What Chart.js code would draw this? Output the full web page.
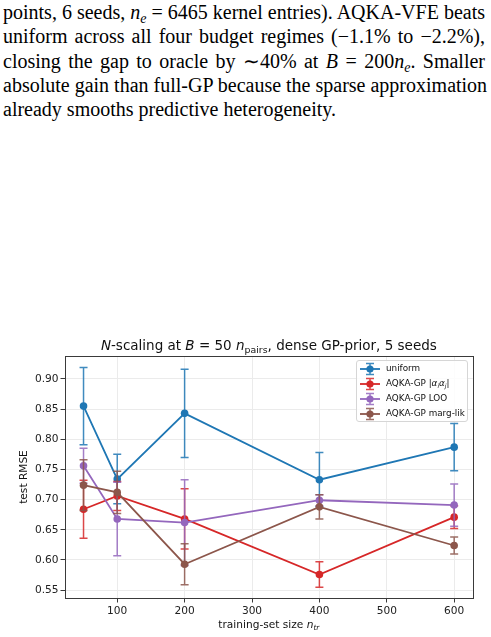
<!DOCTYPE html>
<html>
<head>
<meta charset="utf-8">
<script src="https://cdn.jsdelivr.net/npm/chart.js@4.4.0/dist/chart.umd.min.js"></script>
<style>
  html, body { margin: 0; padding: 0; background: #fff; }
  body { width: 491px; height: 637px; position: relative; overflow: hidden; }
  #texto { position: absolute; left: 3px; top: 0; width: 482px;
    font-family: "Liberation Serif", "Times New Roman", serif; font-size: 20px; color: #000; }
  #texto div { height: 24.3px; line-height: 24.3px; white-space: nowrap;
    text-align: justify; text-align-last: justify; }
  #texto div.ultima { text-align: left; text-align-last: left; }
  #texto sub { font-size: 70%; line-height: 0; vertical-align: -0.25em; }
  #caja { position: absolute; left: 0; top: 325px; width: 491px; height: 312px; }
</style>
</head>
<body>
<div id="texto">
  <div>points, 6 seeds, <i>n<sub>e</sub></i> = 6465 kernel entries). AQKA-VFE beats</div>
  <div>uniform across all four budget regimes (−1.1% to −2.2%),</div>
  <div>closing the gap to oracle by ∼40% at <i>B</i> = 200<i>n<sub>e</sub></i>. Smaller</div>
  <div>absolute gain than full-GP because the sparse approximation</div>
  <div class="ultima">already smooths predictive heterogeneity.</div>
</div>
<div id="caja"><canvas id="grafico" width="491" height="312"></canvas></div>
<script>
// ========== DATOS ==========
const tamanos = [50, 100, 200, 400, 600];
const xTicks = [100, 200, 300, 400, 500, 600];
const yTicks = [0.55, 0.60, 0.65, 0.70, 0.75, 0.80, 0.85, 0.90];

const uniformMedia = [0.855, 0.734, 0.843, 0.733, 0.787];
const uniformErr = [0.064, 0.041, 0.073, 0.045, 0.039];
const absMedia = [0.684, 0.706, 0.668, 0.576, 0.671];
const absErr = [0.048, 0.024, 0.050, 0.021, 0.019];
const looMedia = [0.756, 0.668, 0.662, 0.699, 0.691];
const looErr = [0.029, 0.061, 0.071, 0.009, 0.035];
const margMedia = [0.724, 0.712, 0.593, 0.688, 0.624];
const margErr = [0.042, 0.035, 0.034, 0.020, 0.014];

const series = [
  { nombre: "uniform", media: uniformMedia, err: uniformErr, color: "#1f77b4" },
  { nombre: "AQKA-GP |αiαj|", media: absMedia, err: absErr, color: "#d62728" },
  { nombre: "AQKA-GP LOO", media: looMedia, err: looErr, color: "#9467bd" },
  { nombre: "AQKA-GP marg-lik", media: margMedia, err: margErr, color: "#8c564b" }
];

const DEJAVU = '"DejaVu Sans", sans-serif';

// dibuja una fila de trozos de texto con fuentes distintas, centrada en x
function textoMixto(ctx, trozos, x, y) {
  let ancho = 0;
  trozos.forEach(t => { ctx.font = t.font; ancho += ctx.measureText(t.t).width; });
  let cx = x - ancho / 2;
  ctx.textAlign = "left";
  ctx.textBaseline = "alphabetic";
  trozos.forEach(t => {
    ctx.font = t.font;
    ctx.fillText(t.t, cx, y + (t.dy || 0));
    cx += ctx.measureText(t.t).width;
  });
}

function barraError(ctx, x, yArr, yAb, color) {
  ctx.strokeStyle = color;
  ctx.lineWidth = 1.5;
  ctx.beginPath();
  ctx.moveTo(x, yArr); ctx.lineTo(x, yAb);
  ctx.moveTo(x - 4, yArr); ctx.lineTo(x + 4, yArr);
  ctx.moveTo(x - 4, yAb); ctx.lineTo(x + 4, yAb);
  ctx.stroke();
}

// ========== PLUGIN BARRAS DE ERROR ==========
const barrasError = {
  id: "barrasError",
  beforeDatasetDraw(chart, args) {
    const s = series[args.index];
    const ctx = chart.ctx;
    const { x: ex, y: ey } = chart.scales;
    ctx.save();
    ctx.globalAlpha = 0.85;
    tamanos.forEach((t, i) => {
      barraError(ctx, ex.getPixelForValue(t),
        ey.getPixelForValue(s.media[i] + s.err[i]),
        ey.getPixelForValue(s.media[i] - s.err[i]), s.color);
    });
    ctx.restore();
  }
};

// ========== PLUGIN TEXTOS, MARCO Y LEYENDA ==========
const decoracion = {
  id: "decoracion",
  afterDraw(chart) {
    const ctx = chart.ctx;
    const a = chart.chartArea;
    ctx.save();

    // marco
    ctx.strokeStyle = "#3a3a3a";
    ctx.lineWidth = 1;
    ctx.strokeRect(Math.round(a.left) + 0.5, Math.round(a.top) + 0.5,
      Math.round(a.right - a.left), Math.round(a.bottom - a.top));

    // titulo
    ctx.fillStyle = "#111";
    const tn = "13.5px " + DEJAVU, ti = "italic 13.5px " + DEJAVU, ts = "9.4px " + DEJAVU;
    textoMixto(ctx, [
      { t: "N", font: ti }, { t: "-scaling at ", font: tn }, { t: "B", font: ti },
      { t: " = 50 ", font: tn }, { t: "n", font: ti }, { t: "pairs", font: ts, dy: 2.8 },
      { t: ", dense GP-prior, 5 seeds", font: tn }
    ], (a.left + a.right) / 2, 25);

    // titulo eje x
    textoMixto(ctx, [
      { t: "training-set size ", font: "10.6px " + DEJAVU },
      { t: "n", font: "italic 10.6px " + DEJAVU },
      { t: "tr", font: "italic 7.4px " + DEJAVU, dy: 2 }
    ], (a.left + a.right) / 2, 303);

    // titulo eje y
    ctx.save();
    ctx.translate(27, (a.top + a.bottom) / 2);
    ctx.rotate(-Math.PI / 2);
    ctx.font = "10.6px " + DEJAVU;
    ctx.textAlign = "center";
    ctx.textBaseline = "alphabetic";
    ctx.fillText("test RMSE", 0, 0);
    ctx.restore();

    // leyenda
    const lx = 356.5, ly = 35.5, lw = 111, lh = 61;
    ctx.fillStyle = "rgba(255,255,255,0.85)";
    ctx.strokeStyle = "#d6d6d6";
    ctx.lineWidth = 1;
    ctx.beginPath();
    ctx.roundRect(lx, ly, lw, lh, 2.5);
    ctx.fill();
    ctx.stroke();
    series.forEach((s, i) => {
      const yy = ly + 8.5 + i * 15;
      ctx.globalAlpha = 0.85;
      barraError(ctx, 370, yy - 5.5, yy + 5.5, s.color);
      ctx.globalAlpha = 1;
      ctx.strokeStyle = s.color;
      ctx.lineWidth = 1.8;
      ctx.beginPath(); ctx.moveTo(360, yy); ctx.lineTo(380, yy); ctx.stroke();
      ctx.fillStyle = s.color;
      ctx.beginPath(); ctx.arc(370, yy, 3.6, 0, Math.PI * 2); ctx.fill();
      ctx.fillStyle = "#111";
      ctx.textBaseline = "middle";
      if (i === 1) {
        const f = "8.8px " + DEJAVU, fi = "italic 8.8px " + DEJAVU, fs = "italic 6px " + DEJAVU;
        let cx = 386;
        [{ t: "AQKA-GP |", font: f }, { t: "α", font: fi }, { t: "i", font: fs, dy: 2.5 },
         { t: "α", font: fi }, { t: "j", font: fs, dy: 2.5 }, { t: "|", font: f }].forEach(p => {
          ctx.font = p.font;
          ctx.textAlign = "left";
          ctx.fillText(p.t, cx, yy + (p.dy || 0));
          cx += ctx.measureText(p.t).width;
        });
      } else {
        ctx.font = "8.8px " + DEJAVU;
        ctx.textAlign = "left";
        ctx.fillText(s.nombre, 386, yy);
      }
    });
    ctx.restore();
  }
};

// ========== GRAFICO ==========
const canvas = document.getElementById("grafico");
new Chart(canvas, {
  type: "line",
  data: {
    datasets: series.map((s, i) => ({
      label: s.nombre,
      data: tamanos.map((t, k) => ({ x: t, y: s.media[k] })),
      borderColor: s.color,
      backgroundColor: s.color,
      borderWidth: 1.8,
      pointRadius: 3.8,
      pointHoverRadius: 3.8,
      pointBorderWidth: 0,
      tension: 0,
      order: 4 - i
    }))
  },
  options: {
    responsive: false,
    animation: false,
    devicePixelRatio: 1,
    layout: { padding: { top: 31, right: 18.3, left: 0, bottom: 0 } },
    plugins: { legend: { display: false }, title: { display: false }, tooltip: { enabled: false } },
    scales: {
      x: {
        type: "linear",
        min: 22.5, max: 627.5,
        afterBuildTicks: sc => { sc.ticks = xTicks.map(v => ({ value: v })); },
        afterFit: sc => { sc.height = 39; },
        grid: { color: "#ebebeb", tickColor: "#3a3a3a", tickLength: 4.5, lineWidth: 1 },
        border: { display: false },
        ticks: { color: "#222", padding: 2.5, font: { family: DEJAVU, size: 10.6 }, maxRotation: 0 }
      },
      y: {
        min: 0.537, max: 0.938,
        afterBuildTicks: sc => { sc.ticks = yTicks.map(v => ({ value: v })); },
        afterFit: sc => { sc.width = 65; },
        grid: { color: "#ebebeb", tickColor: "#3a3a3a", tickLength: 4.5, lineWidth: 1 },
        border: { display: false },
        ticks: { color: "#222", padding: 2, font: { family: DEJAVU, size: 10.6 },
          callback: v => v.toFixed(2) }
      }
    }
  },
  plugins: [barrasError, decoracion]
});
</script>
</body>
</html>
